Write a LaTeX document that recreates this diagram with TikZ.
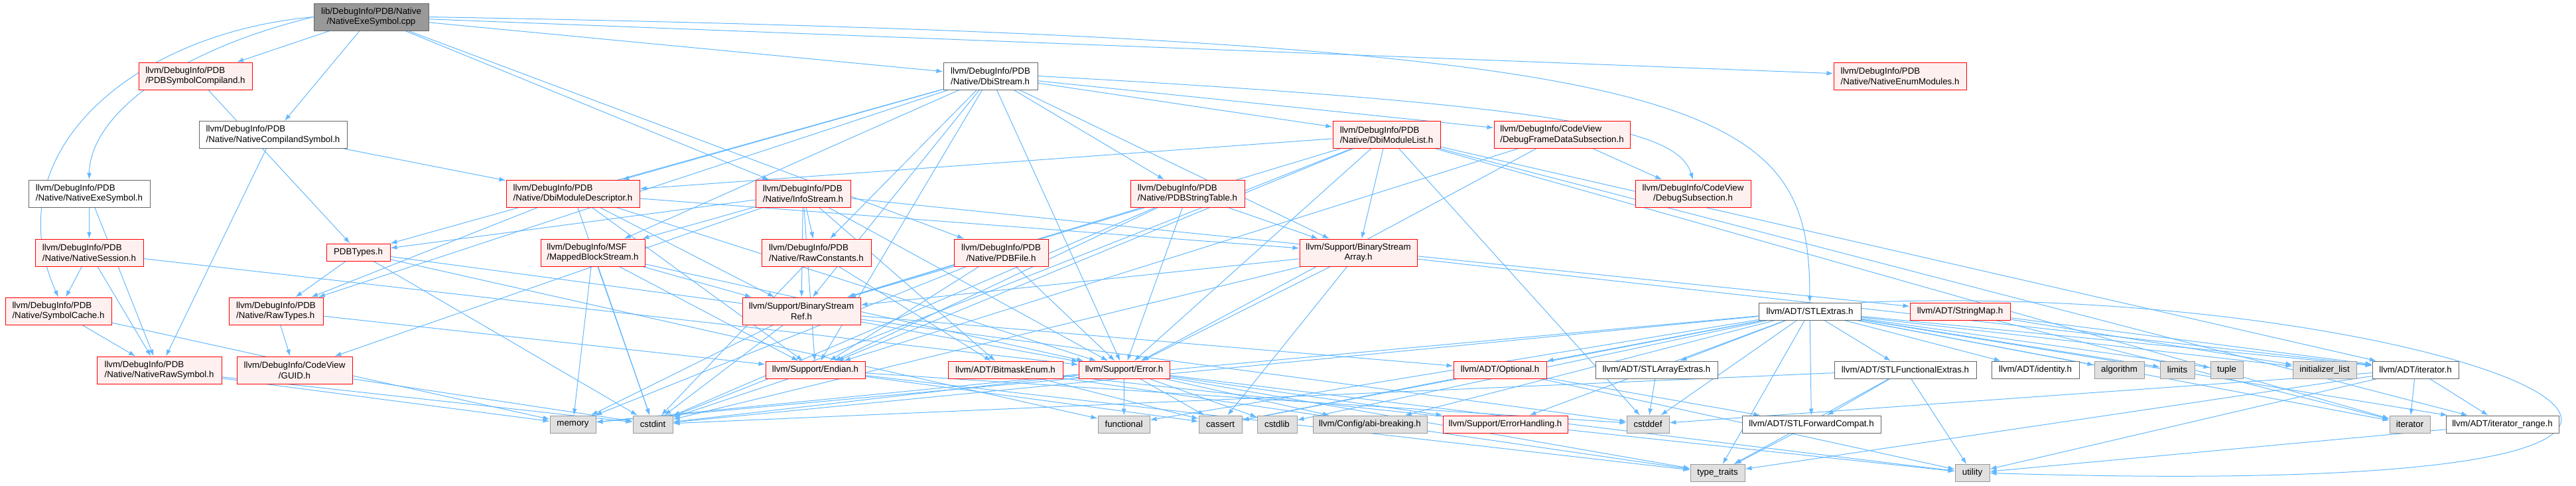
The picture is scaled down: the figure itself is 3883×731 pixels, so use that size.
\documentclass[tikz,border=0pt]{standalone}
\usepackage{fontspec}
\setmainfont{Liberation Sans}
\usetikzlibrary{arrows.meta,backgrounds}
\definecolor{depblue}{HTML}{63B8FF}
\definecolor{trncline}{HTML}{FF0000}
\definecolor{trncfill}{HTML}{FFF0F0}
\definecolor{sysfill}{HTML}{E0E0E0}
\definecolor{sysline}{HTML}{999999}
\definecolor{hdrline}{HTML}{666666}
\definecolor{rootfill}{HTML}{999999}
\tikzset{
  box/.style={draw,rectangle,inner sep=2pt,line width=1pt,
    font=\fontsize{13.3}{15.5}\selectfont},
  twoline/.style={minimum height=41pt},
  oneline/.style={minimum height=26pt},
  trnc/.style={box,draw=trncline,fill=trncfill},
  hdr/.style={box,draw=hdrline,fill=white},
  sys/.style={box,draw=sysline,fill=sysfill},
  rootbox/.style={box,draw=hdrline,fill=rootfill},
  dep/.style={-{Latex[length=10pt,width=7pt]},depblue,line width=1pt}
}
\begin{document}
\begin{tikzpicture}[x=1pt,y=-1pt]
  \useasboundingbox (0,0) rectangle (3883,731);
  % row 0-2
  \node[rootbox,twoline,minimum width=173pt,align=center] (root) at (559.5,25.5) {lib/DebugInfo/PDB/Native\\/NativeExeSymbol.cpp};
  \node[trnc,twoline,minimum width=171pt,align=left] (pdbsymcomp) at (294.5,114.5) {llvm/DebugInfo/PDB\\/PDBSymbolCompiland.h};
  \node[hdr,twoline,minimum width=142pt,align=left] (dbistream) at (1493,114.5) {llvm/DebugInfo/PDB\\/Native/DbiStream.h};
  \node[trnc,twoline,minimum width=200pt,align=left] (enummods) at (2864,114.5) {llvm/DebugInfo/PDB\\/Native/NativeEnumModules.h};
  \node[hdr,twoline,minimum width=223pt,align=left] (natcompsym) at (411.5,203) {llvm/DebugInfo/PDB\\/Native/NativeCompilandSymbol.h};
  \node[trnc,twoline,minimum width=162pt,align=left] (dbimodlist) at (2090,203) {llvm/DebugInfo/PDB\\/Native/DbiModuleList.h};
  \node[trnc,twoline,minimum width=205pt,align=left] (dbgframe) at (2354.5,203) {llvm/DebugInfo/CodeView\\/DebugFrameDataSubsection.h};
  % row 3
  \node[hdr,twoline,minimum width=183pt,align=left] (natexesym) at (134.5,291.5) {llvm/DebugInfo/PDB\\/Native/NativeExeSymbol.h};
  \node[trnc,twoline,minimum width=201pt,align=left] (dbimoddesc) at (863.5,291.5) {llvm/DebugInfo/PDB\\/Native/DbiModuleDescriptor.h};
  \node[trnc,twoline,minimum width=143pt,align=left] (infostream) at (1210.5,291.5) {llvm/DebugInfo/PDB\\/Native/InfoStream.h};
  \node[trnc,twoline,minimum width=172pt,align=left] (strtable) at (1790,291.5) {llvm/DebugInfo/PDB\\/Native/PDBStringTable.h};
  \node[trnc,twoline,minimum width=174pt,align=center] (dbgsubsec) at (2552,291.5) {llvm/DebugInfo/CodeView\\/DebugSubsection.h};
  % row 4
  \node[trnc,twoline,minimum width=163pt,align=left] (natsession) at (134.5,380.5) {llvm/DebugInfo/PDB\\/Native/NativeSession.h};
  \node[trnc,oneline,minimum width=96pt] (pdbtypes) at (540,380) {PDBTypes.h};
  \node[trnc,twoline,minimum width=157pt,align=left] (mappedblk) at (893.5,380.5) {llvm/DebugInfo/MSF\\/MappedBlockStream.h};
  \node[trnc,twoline,minimum width=165pt,align=left] (rawconst) at (1230.5,380.5) {llvm/DebugInfo/PDB\\/Native/RawConstants.h};
  \node[trnc,twoline,minimum width=142pt,align=center] (pdbfile) at (1509,380.5) {llvm/DebugInfo/PDB\\/Native/PDBFile.h};
  \node[trnc,twoline,minimum width=177pt,align=center] (bsarray) at (2047.5,380.5) {llvm/Support/BinaryStream\\Array.h};
  % row 5
  \node[trnc,twoline,minimum width=160pt,align=left] (symcache) at (88,468.5) {llvm/DebugInfo/PDB\\/Native/SymbolCache.h};
  \node[trnc,twoline,minimum width=142pt,align=left] (rawtypes) at (416,468.5) {llvm/DebugInfo/PDB\\/Native/RawTypes.h};
  \node[trnc,twoline,minimum width=178pt,align=center] (bsref) at (1208,468.5) {llvm/Support/BinaryStream\\Ref.h};
  \node[hdr,oneline,minimum width=154pt] (stlextras) at (2728,469) {llvm/ADT/STLExtras.h};
  \node[trnc,oneline,minimum width=151pt] (stringmap) at (2954.5,469) {llvm/ADT/StringMap.h};
  % row 6
  \node[trnc,twoline,minimum width=188pt,align=left] (natrawsym) at (240,557.5) {llvm/DebugInfo/PDB\\/Native/NativeRawSymbol.h};
  \node[trnc,twoline,minimum width=174pt,align=center] (guid) at (444,557.5) {llvm/DebugInfo/CodeView\\/GUID.h};
  \node[trnc,oneline,minimum width=150pt] (endian) at (1229,557) {llvm/Support/Endian.h};
  \node[trnc,oneline,minimum width=173pt] (bitmask) at (1515.5,557) {llvm/ADT/BitmaskEnum.h};
  \node[trnc,oneline,minimum width=137pt] (error) at (1694.5,557) {llvm/Support/Error.h};
  \node[trnc,oneline,minimum width=140pt] (optional) at (2261,557) {llvm/ADT/Optional.h};
  \node[hdr,oneline,minimum width=184pt] (stlarray) at (2497,557) {llvm/ADT/STLArrayExtras.h};
  \node[hdr,oneline,minimum width=214pt] (stlfunc) at (2872,557) {llvm/ADT/STLFunctionalExtras.h};
  \node[hdr,oneline,minimum width=132pt] (identity) at (3068,557) {llvm/ADT/identity.h};
  \node[sys,oneline,minimum width=75pt] (algorithm) at (3194.5,557) {algorithm};
  \node[sys,oneline,minimum width=52pt] (limits) at (3282,557) {limits};
  \node[sys,oneline,minimum width=49pt] (tuple) at (3356.5,557) {tuple};
  \node[sys,oneline,minimum width=96pt] (initlist) at (3504,557) {initializer\_list};
  \node[hdr,oneline,minimum width=130pt] (iterh) at (3641,557) {llvm/ADT/iterator.h};
  % row 7
  \node[sys,oneline,minimum width=69pt] (memory) at (863.5,639) {memory};
  \node[sys,oneline,minimum width=60pt] (cstdint) at (984,639) {cstdint};
  \node[sys,oneline,minimum width=78pt] (functional) at (1694,639) {functional};
  \node[sys,oneline,minimum width=65pt] (cassert) at (1839.5,639) {cassert};
  \node[sys,oneline,minimum width=60pt] (cstdlib) at (1925,639) {cstdlib};
  \node[sys,oneline,minimum width=172pt] (abibreak) at (2065,639) {llvm/Config/abi-breaking.h};
  \node[trnc,oneline,minimum width=188pt] (errhandling) at (2269,639) {llvm/Support/ErrorHandling.h};
  \node[sys,oneline,minimum width=64pt] (cstddef) at (2484,639) {cstddef};
  \node[hdr,oneline,minimum width=209pt] (stlfwd) at (2730.5,639) {llvm/ADT/STLForwardCompat.h};
  \node[sys,oneline,minimum width=61pt] (iterator) at (3632.5,639) {iterator};
  \node[hdr,oneline,minimum width=170pt] (iterrange) at (3772,639) {llvm/ADT/iterator\_range.h};
  % row 8
  \node[sys,oneline,minimum width=82pt] (typetraits) at (2589,712.5) {type\_traits};
  \node[sys,oneline,minimum width=52pt] (utility) at (2973,712.5) {utility};

  \begin{scope}[on background layer]
    % the .cpp file
    \draw[dep] (root.west) .. controls (200,50) and (-10,230) .. (symcache.north);
    \draw[dep] (root.west) .. controls (250,80) and (135,180) .. (natexesym.north);
    \draw[dep] (root.east) .. controls (2600,60) and (2727,150) .. (stlextras.north);
    \draw[dep] (dbistream.east) .. controls (2400,160) and (2530,200) .. (dbgsubsec.north);
    \foreach \t in {pdbsymcomp,natcompsym,infostream,pdbfile,dbistream,enummods}
      \draw[dep] (root) -- (\t);
    % headers
    \draw[dep] (pdbsymcomp) -- (pdbtypes);
    \foreach \t in {natrawsym,dbimoddesc} \draw[dep] (natcompsym) -- (\t);
    \foreach \t in {natsession,natrawsym} \draw[dep] (natexesym) -- (\t);
    \foreach \t in {symcache,natrawsym,error} \draw[dep] (natsession) -- (\t);
    \foreach \t in {natrawsym,memory} \draw[dep] (symcache) -- (\t);
    \foreach \t in {memory,cstdint} \draw[dep] (natrawsym) -- (\t);
    \foreach \t in {rawtypes,cstdint,cstddef,functional} \draw[dep] (pdbtypes) -- (\t);
    \foreach \t in {guid,endian} \draw[dep] (rawtypes) -- (\t);
    \draw[dep] (guid) -- (cstdint);
    \foreach \t in {rawtypes,bsarray,bsref,endian,error,cstdint} \draw[dep] (dbimoddesc) -- (\t);
    \foreach \t in {memory,cstdint,bsref,endian,error} \draw[dep] (mappedblk) -- (\t);
    \foreach \t in {pdbtypes,guid,mappedblk,rawconst,bsref,endian,error,bitmask,stringmap}
      \draw[dep] (infostream) -- (\t);
    \foreach \t in {bitmask,cstdint} \draw[dep] (rawconst) -- (\t);
    \foreach \t in {memory,cstdint,optional,error} \draw[dep] (bsref) -- (\t);
    \foreach \t in {cstdint,cassert,cstddef,typetraits} \draw[dep] (endian) -- (\t);
    \foreach \t in {functional,cassert,cstdlib,abibreak,errhandling,cstdint,memory,typetraits,utility}
      \draw[dep] (error) -- (\t);
    \foreach \t in {cassert,typetraits,utility} \draw[dep] (bitmask) -- (\t);
    \foreach \t in {dbimoddesc,mappedblk,rawtypes,pdbtypes,rawconst,strtable,dbimodlist,dbgframe,bsarray,bsref,endian,error}
      \draw[dep] (dbistream) -- (\t);
    \foreach \t in {bsarray,bsref,endian,error,cstdint} \draw[dep] (strtable) -- (\t);
    \foreach \t in {bsref,endian,memory,error} \draw[dep] (pdbfile) -- (\t);
    \foreach \t in {dbimoddesc,bsarray,bsref,endian,error,cstddef,cstdint,iterh,iterrange,iterator}
      \draw[dep] (dbimodlist) -- (\t);
    \foreach \t in {dbgsubsec,endian,error} \draw[dep] (dbgframe) -- (\t);
    \foreach \t in {bsref,error,cassert,cstdint,iterh} \draw[dep] (bsarray) -- (\t);
    \foreach \t in {stlfwd,cassert,utility} \draw[dep] (optional) -- (\t);
    \draw[dep] (stlarray) -- (cstddef);
    \foreach \t in {optional,stlarray,stlfwd,stlfunc,identity,iterh,iterrange,abibreak,errhandling,algorithm,cassert,cstddef,cstdint,cstdlib,functional,initlist,iterator,limits,memory,tuple,typetraits}
      \draw[dep] (stlextras) -- (\t);
    % the long loop round the right side
    \draw[dep] (stlextras.north east) .. controls (3700,420) and (4550,760) .. (utility.east);
    \foreach \t in {iterh,initlist,iterator} \draw[dep] (stringmap) -- (\t);
    \foreach \t in {stlfwd,typetraits,utility,cstdint} \draw[dep] (stlfunc) -- (\t);
    \draw[dep] (stlfwd) -- (typetraits);
    \foreach \t in {iterator,iterrange,cstddef,typetraits,utility} \draw[dep] (iterh) -- (\t);
    \draw[dep] (iterrange) -- (utility);
  \end{scope}
\end{tikzpicture}
\end{document}
